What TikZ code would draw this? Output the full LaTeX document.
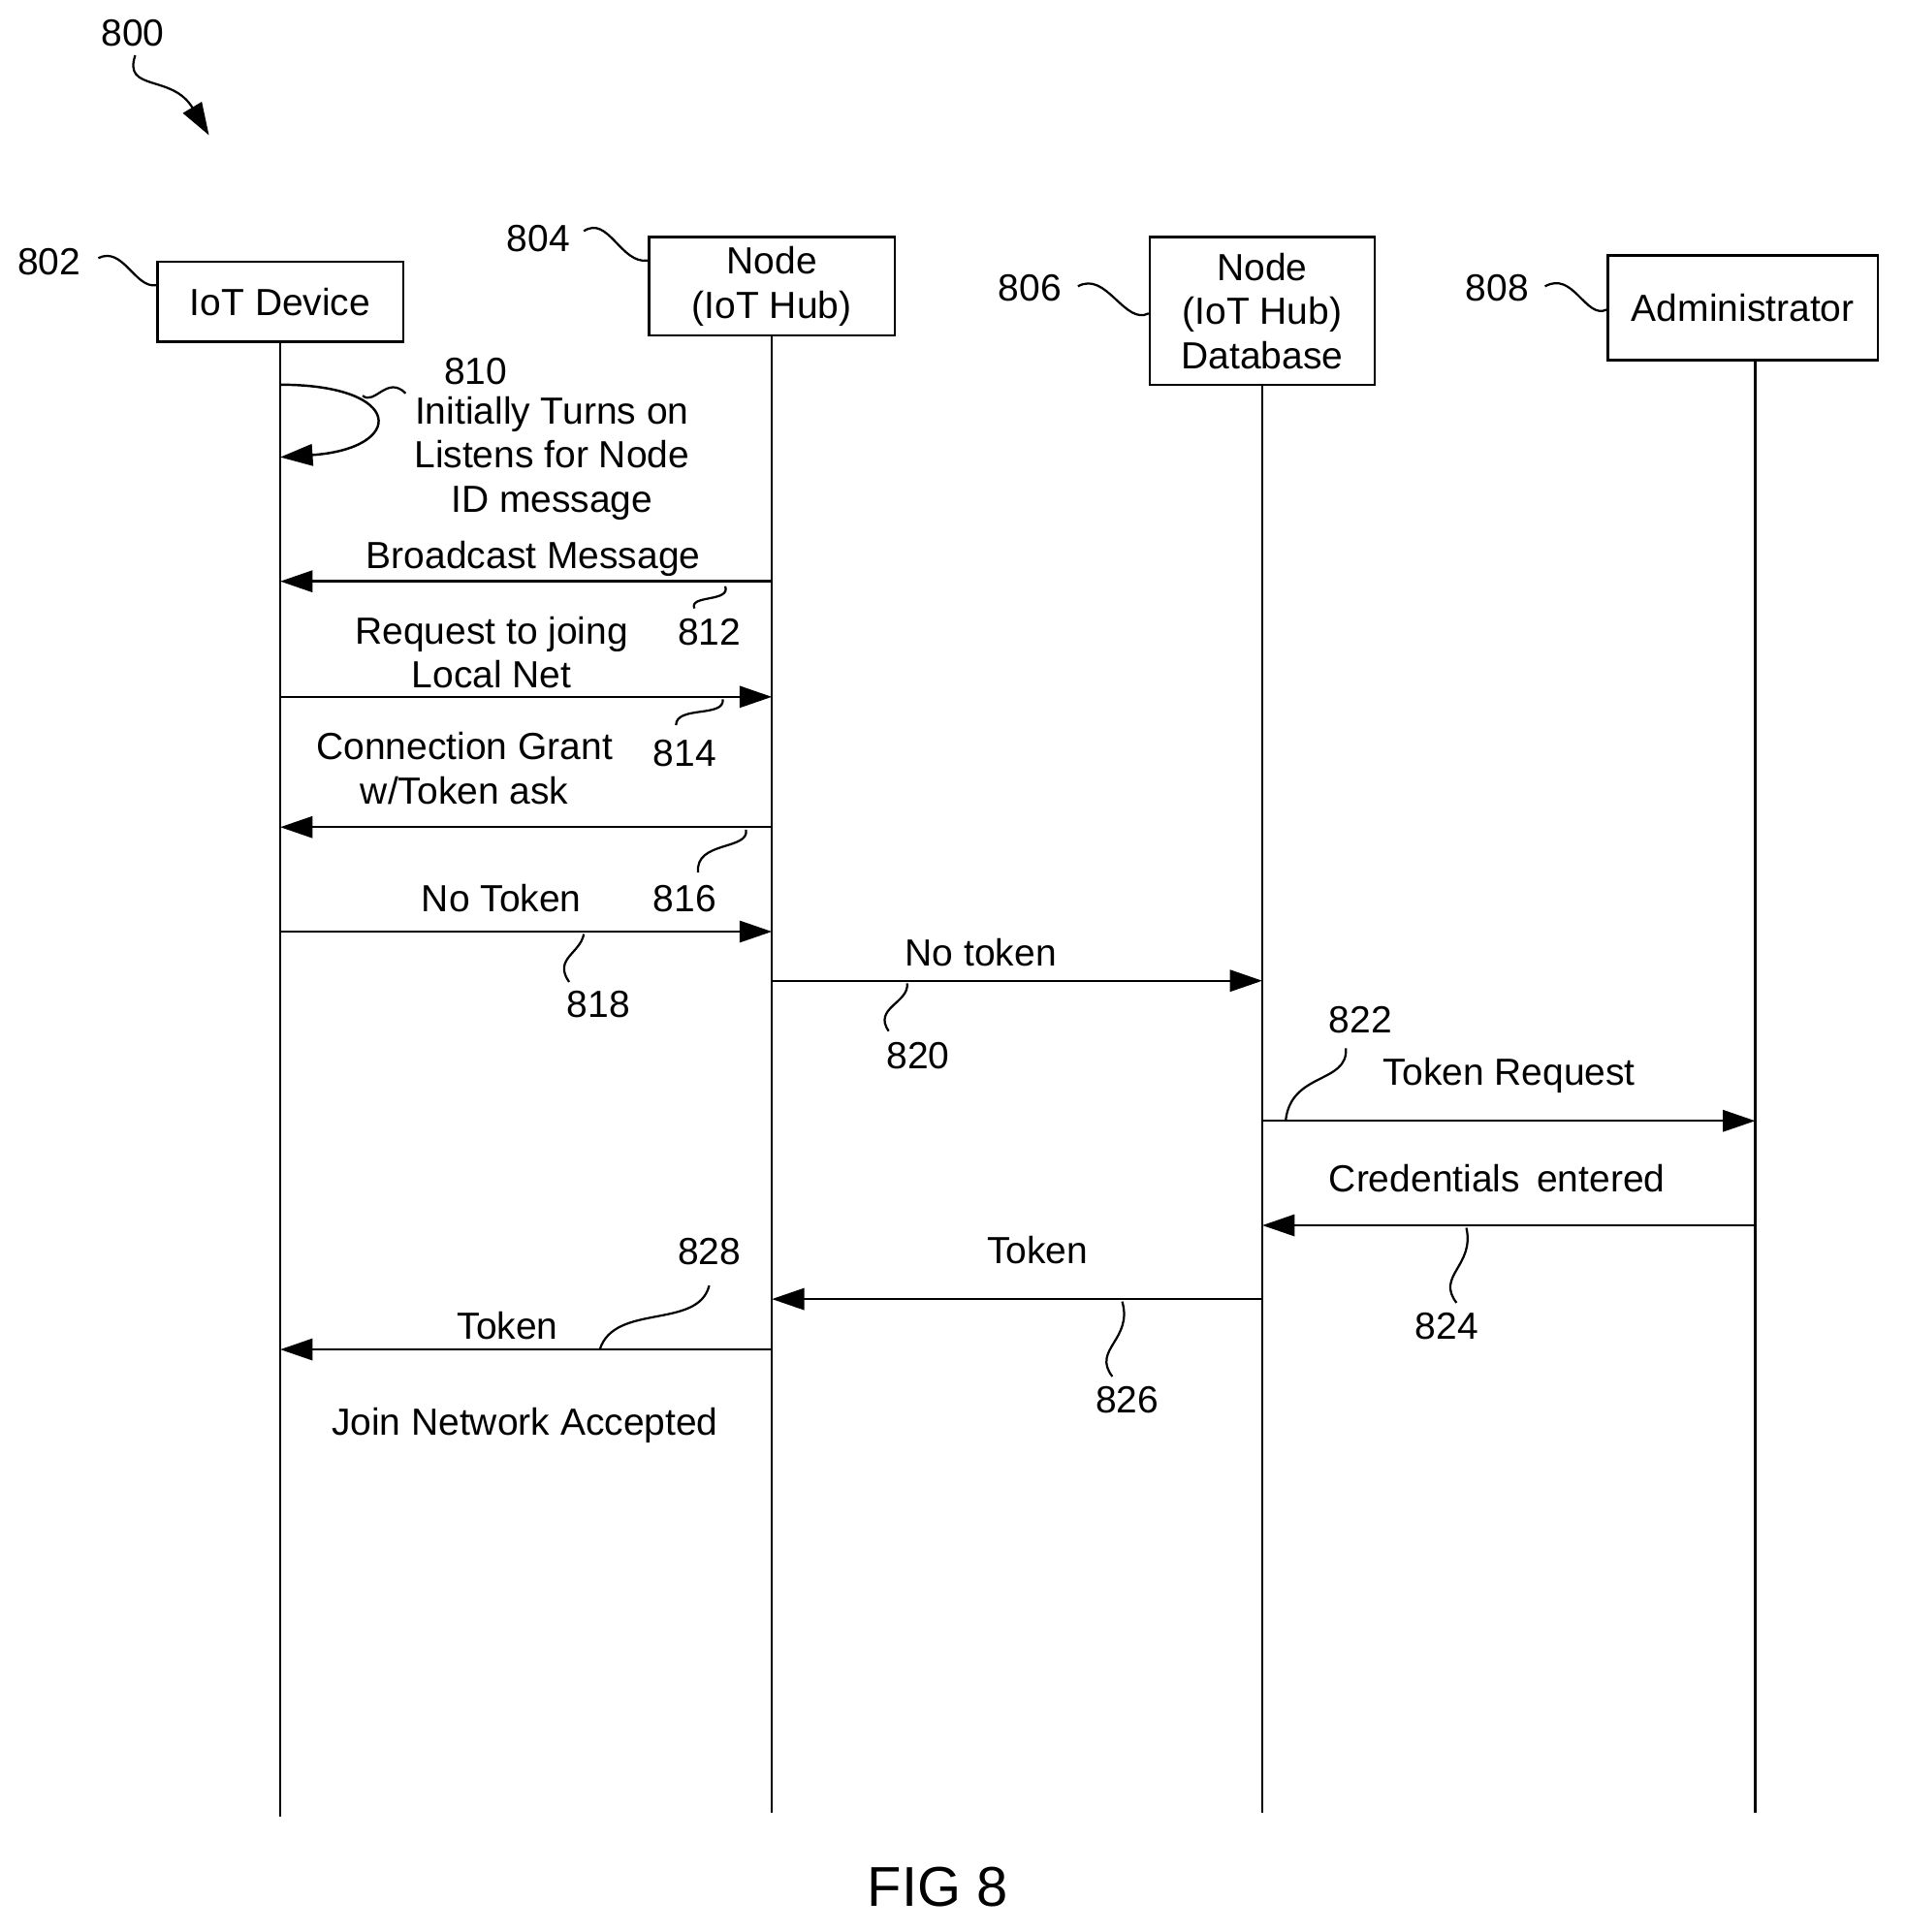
\documentclass[tikz,border=0pt]{standalone}
\usepackage{fontspec}
\setmainfont{Liberation Sans}
\usetikzlibrary{arrows.meta}
\tikzset{
  box/.style={draw, line width=1.1pt, align=center, inner sep=0pt},
  life/.style={line width=1.1pt},
  msg/.style={line width=1.1pt, -{Triangle[length=15pt,width=10pt]}},
  wig/.style={line width=1pt},
  lbl/.style={align=center, inner sep=0pt}
}
\begin{document}
\fontsize{17.5}{20.5}\selectfont
\begin{tikzpicture}[x=0.02cm, y=-0.02cm]
\useasboundingbox (0,0) rectangle (1550,1572);
% participants
\node[box, minimum width=4cm, minimum height=1.3cm] (dev) at (228,245.5) {IoT Device};
\node[box, minimum width=4cm, minimum height=1.6cm] (hub) at (628,233) {Node\\(IoT Hub)};
\node[box, minimum width=3.66cm, minimum height=2.4cm] (db) at (1027,253) {Node\\(IoT Hub)\\Database};
\node[box, minimum width=4.4cm, minimum height=1.7cm] (adm) at (1418,250.5) {Administrator};
\coordinate (admL) at (1428,293);
\draw[life] (dev.south) -- (dev |- 0,1478);
\draw[life] (hub.south) -- (hub |- 0,1475);
\draw[life] (db.south) -- (db |- 0,1475);
\draw[life] (admL) -- (admL |- 0,1475);

% reference labels
\node[lbl] (n800) at (108,27) {800};
\draw[wig, -{Triangle[length=15pt,width=10pt]}] (110,45) .. controls (100,75) and (140,60) .. (170,110);
\node[lbl] (n802) at (40,213) {802};
\draw[wig] (80,210) .. controls (100,200) and (110,235) .. (dev.west |- 0,232);
\node[lbl] (n804) at (438,194) {804};
\draw[wig] (475,188) .. controls (495,175) and (505,215) .. (hub.west |- 0,212);
\node[lbl] (n806) at (838,234) {806};
\draw[wig] (877,233) .. controls (900,220) and (915,265) .. (db.west |- 0,255);
\node[lbl] (n808) at (1218,234) {808};
\draw[wig] (1257,233) .. controls (1280,220) and (1290,260) .. (adm.west |- 0,252);

% self message
\draw[msg] (dev |- 0,313) .. controls (330,313) and (330,365) .. (dev |- 0,372);
\node[lbl] (n810) at (387,302) {810};
\draw[wig] (330,320) .. controls (315,305) and (305,330) .. (295,322);
\node[lbl] (t810) at (449,373) {Initially Turns on\\Listens for Node\\ID message};

% messages
\draw[msg] (hub |- 0,473) -- (dev |- 0,473);
\node[lbl] (t812) at (434,455) {Broadcast Message};
\node[lbl] (n812) at (577,514) {812};
\draw[wig] (590,477) .. controls (595,490) and (560,484) .. (565,495);

\draw[msg] (dev |- 0,567) -- (hub |- 0,567);
\node[lbl] (t814) at (400,531) {Request to joing\\Local Net};
\node[lbl] (n814) at (557,613) {814};
\draw[wig] (588,569) .. controls (590,584) and (550,574) .. (550,590);

\draw[msg] (hub |- 0,673) -- (dev |- 0,673);
\node[lbl] (t816) at (378,625) {Connection Grant\\w/Token ask};
\node[lbl] (n816) at (557,731) {816};
\draw[wig] (607,675) .. controls (610,692) and (565,684) .. (568,710);

\draw[msg] (dev |- 0,758) -- (hub |- 0,758);
\node[lbl] (t818) at (408,731) {No Token};
\node[lbl] (n818) at (487,817) {818};
\draw[wig] (475,760) .. controls (472,776) and (450,780) .. (463,799);

\draw[msg] (hub |- 0,798) -- (db |- 0,798);
\node[lbl] (t820) at (798,775) {No token};
\node[lbl] (n820) at (747,859) {820};
\draw[wig] (738,800) .. controls (740,816) and (710,820) .. (723,839);

\draw[msg] (db |- 0,912) -- (admL |- 0,912);
\node[lbl] (t822) at (1228,875) {Token Request};
\node[lbl] (n822) at (1107,830) {822};
\draw[wig] (1095,853) .. controls (1097,882) and (1050,872) .. (1046,912);

\draw[msg] (admL |- 0,997) -- (db |- 0,997);
\node[lbl] (t824) at (1218,959) {Credentials\, entered};
\node[lbl] (n824) at (1177,1079) {824};
\draw[wig] (1193,999) .. controls (1200,1030) and (1168,1038) .. (1185,1060);

\draw[msg] (db |- 0,1057) -- (hub |- 0,1057);
\node[lbl] (t826) at (844,1017) {Token};
\node[lbl] (n826) at (917,1139) {826};
\draw[wig] (913,1059) .. controls (922,1090) and (888,1098) .. (905,1120);

\draw[msg] (hub |- 0,1098) -- (dev |- 0,1098);
\node[lbl] (t828) at (413,1079) {Token};
\node[lbl] (n828) at (577,1018) {828};
\draw[wig] (577,1046) .. controls (568,1082) and (500,1060) .. (488,1098);

\node[lbl] (done) at (427,1160) {Join Network Accepted};
\node[lbl, font=\fontsize{26}{30}\selectfont] (fig) at (763,1535) {FIG 8};
\end{tikzpicture}
\end{document}
